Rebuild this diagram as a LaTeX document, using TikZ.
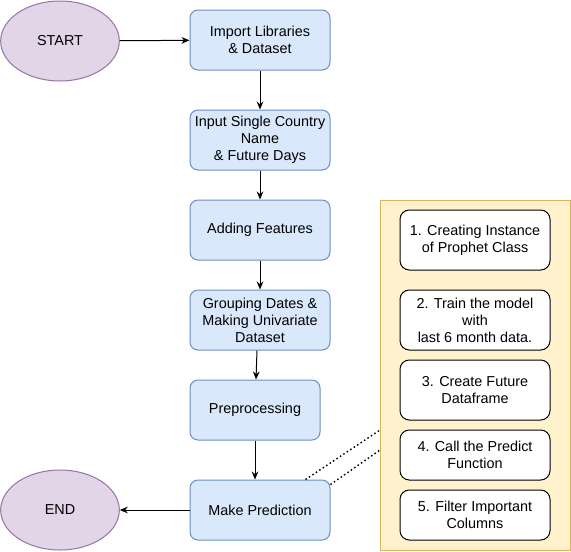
\documentclass[tikz,border=0pt]{standalone}
\usepackage{fontspec}
\setmainfont{Liberation Sans}
\usepackage{xcolor}
\usetikzlibrary{shapes.geometric, arrows.meta}

\definecolor{boxblue}{HTML}{DAE8FC}
\definecolor{lineblue}{HTML}{6C8EBF}
\definecolor{ovalpurple}{HTML}{E1D5E7}
\definecolor{linepurple}{HTML}{9673A6}
\definecolor{panelyellow}{HTML}{FFF2CC}
\definecolor{lineyellow}{HTML}{D6B656}

\begin{document}
\begin{tikzpicture}[x=0.75pt, y=-0.75pt, >={Stealth[length=6pt, width=5pt]},
    every node/.style={font=\fontsize{10.8}{12.8}\selectfont, align=center, inner sep=1pt},
    oval/.style={ellipse, draw=linepurple, fill=ovalpurple, line width=0.75pt, minimum width=89pt, minimum height=60pt},
    flowbox/.style={rectangle, rounded corners=6pt, draw=lineblue, fill=boxblue, line width=0.75pt, minimum width=105pt, minimum height=45pt},
    stagebox/.style={rectangle, rounded corners=7pt, draw=black, fill=white, line width=0.75pt, minimum width=112.5pt},
    flow/.style={->, line width=0.75pt}]
    \useasboundingbox (0,0) rectangle (571,551);

    % side panel with the prophet steps
    \node[rectangle, draw=lineyellow, fill=panelyellow, line width=0.75pt, minimum width=142.5pt, minimum height=262.5pt] (panel) at (475,375) {};
    \node[stagebox, minimum height=45pt] (s1) at (475,240) {1. Creating Instance\\of Prophet Class};
    \node[stagebox, minimum height=45pt] (s2) at (475,320) {2. Train the model\\with\\last 6 month data.};
    \node[stagebox, minimum height=45pt] (s3) at (475,390) {3. Create Future\\Dataframe};
    \node[stagebox, minimum height=37.5pt] (s4) at (475,455) {4. Call the Predict\\Function};
    \node[stagebox, minimum height=37.5pt] (s5) at (475,515) {5. Filter Important\\Columns};

    % main flow
    \node[oval] (start) at (60,41) {START};
    \node[oval] (stop) at (60,510) {END};
    \node[flowbox] (imp) at (260,40) {Import Libraries\\\& Dataset};
    \node[flowbox] (inp) at (260,140) {Input Single Country\\Name\\\& Future Days};
    \node[flowbox] (feat) at (260,230) {Adding Features};
    \node[flowbox] (grp) at (260,320) {Grouping Dates \&\\Making Univariate\\Dataset};
    \node[flowbox, minimum width=97.5pt] (prep) at (255,410) {Preprocessing};
    \node[flowbox] (pred) at (260,510) {Make Prediction};

    \draw[flow] (start) -- (imp);
    \draw[flow] (imp) -- (inp);
    \draw[flow] (inp) -- (feat);
    \draw[flow] (feat) -- (grp);
    \draw[flow] ([xshift=-2.25pt]grp.south) -- ([xshift=0.75pt]prep.north);
    \draw[flow] (prep.south) -- ([xshift=-3.75pt]pred.north);
    \draw[flow] (pred) -- (stop);

    % link to the panel
    \coordinate (p1) at (380,430);
    \coordinate (p2) at (380,450);
    \draw[dotted, line width=1.1pt] ([xshift=-18.75pt]pred.north east) -- (p1);
    \draw[dotted, line width=1.1pt] ([yshift=-3.75pt]pred.north east) -- (p2);
\end{tikzpicture}
\end{document}
